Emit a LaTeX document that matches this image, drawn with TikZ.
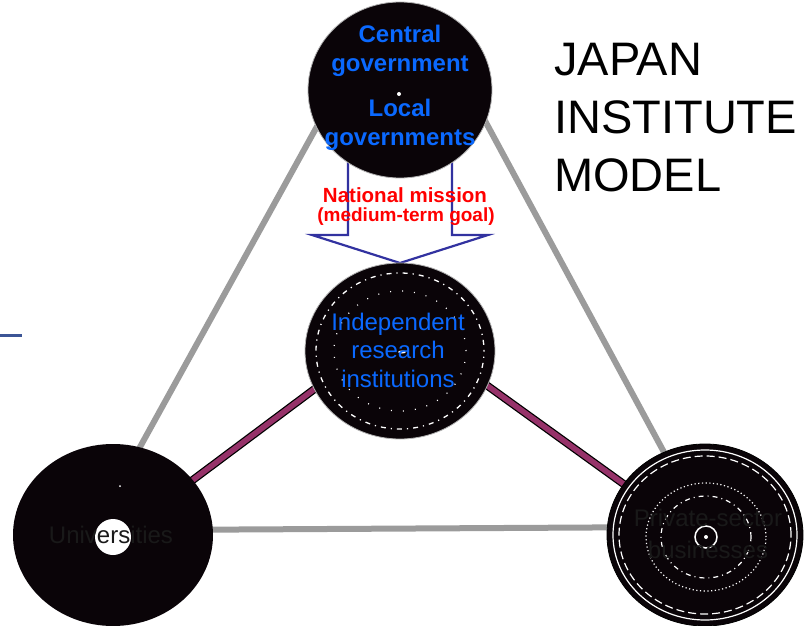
\documentclass[tikz,border=0pt]{standalone}
\usepackage{fontspec}
\setmainfont{Liberation Sans}
\usetikzlibrary{shapes.geometric}
\definecolor{disc}{RGB}{10,4,8}
\definecolor{greyline}{RGB}{155,155,155}
\definecolor{plum}{RGB}{150,50,105}
\definecolor{textblue}{RGB}{10,105,255}
\definecolor{arrowblue}{RGB}{50,50,160}
\definecolor{stubblue}{RGB}{60,85,150}
\tikzset{
  disk/.style={ellipse, fill=disc, draw=gray!60, line width=0.8pt, inner sep=0pt},
  greyconn/.style={draw=greyline, line width=6pt},
  plumouter/.style={draw=black, line width=8pt},
  pluminner/.style={draw=plum, line width=5.5pt},
  bluebold/.style={text=textblue, font=\fontsize{24}{28.5}\selectfont\bfseries, align=center, inner sep=0pt},
  bluereg/.style={text=textblue, font=\fontsize{24}{28.5}\selectfont, align=center, inner sep=0pt},
  darktext/.style={text=black!90, font=\fontsize{24}{32}\selectfont, align=center, inner sep=0pt},
  redtext/.style={text=red, font=\fontsize{19}{22}\selectfont\bfseries, align=center, inner sep=0pt},
  titletext/.style={text=black, font=\fontsize{47}{58}\selectfont, align=left, inner sep=0pt, anchor=north west},
  whitering/.style={draw=white, line width=1.2pt},
}
\begin{document}
\begin{tikzpicture}[x=1pt,y=-1pt]
\useasboundingbox (0,0) rectangle (804,626);
% connector end points (hidden behind the discs)
\coordinate (gl1) at (331.6,100);
\coordinate (gl2) at (121.8,480);
\coordinate (gr1) at (473.8,100);
\coordinate (gr2) at (679,480);
\coordinate (gb1) at (150,530);
\coordinate (gb2) at (680,527);
\coordinate (pl1) at (340,370);
\coordinate (pl2) at (170,497);
\coordinate (pr1) at (460,366);
\coordinate (pr2) at (650,503);
\coordinate (s1) at (0,335);
\coordinate (s2) at (22,335);
% grey triangle
\draw[greyconn] (gl1) -- (gl2);
\draw[greyconn] (gr1) -- (gr2);
\draw[greyconn] (gb1) -- (gb2);
% plum links
\draw[plumouter] (pl1) -- (pl2);
\draw[pluminner] (pl1) -- (pl2);
\draw[plumouter] (pr1) -- (pr2);
\draw[pluminner] (pr1) -- (pr2);
% left stub
\draw[stubblue, line width=3pt] (s1) -- (s2);
% block arrow
\draw[arrowblue, fill=white, line width=2.2pt, line join=miter]
  (348,150) -- (348,235) -- (312,235) -- (400,263) -- (488,235) -- (452,235) -- (452,150) -- cycle;
\node[redtext, font=\fontsize{20.5}{22}\selectfont\bfseries] (nm1) at (405,195) {National mission};
\node[redtext] (nm2) at (406,217) {(medium-term goal)};
% discs
\node[disk, minimum width=184pt, minimum height=176pt] (gov) at (400,90) {};
\fill[white] (399,94) circle (2pt);
\node[bluebold] (cg) at (400,51) {Central\\government};
\node[bluebold] (lg) at (400,125) {Local\\governments};

\node[disk, minimum width=190pt, minimum height=176pt] (iri) at (400,351) {};
\draw[white, line width=1.3pt, dash pattern=on 1.2pt off 5pt on 5pt off 5pt] (400,351) ellipse (84pt and 78pt);
\draw[white, line width=1.2pt, dash pattern=on 1pt off 11pt] (400,351) ellipse (66pt and 60pt);
\fill[white] (402,352) ellipse (4pt and 1.5pt);
\node[bluereg] (irit) at (398,350) {Independent\\research\\institutions};

\node[disk, draw=none, minimum width=200pt, minimum height=182pt] (uni) at (113,535) {};
\fill[white] (113,537) circle (18pt);
\fill[white] (120,486) circle (1pt);
\node[darktext] (unit) at (111,535) {Universities};

\node[disk, draw=black, minimum width=196pt, minimum height=182pt] (priv) at (705,535) {};
\draw[whitering] (705,535) ellipse (92pt and 85pt);
\draw[white, line width=1.2pt, dash pattern=on 8pt off 4pt] (705,535) ellipse (86pt and 79pt);
\draw[white, line width=1.2pt, dash pattern=on 1.2pt off 2.5pt] (706,537) ellipse (60pt and 54pt);
\draw[white, line width=1.2pt, dash pattern=on 5pt off 4pt on 1pt off 4pt] (706,537) ellipse (45pt and 41pt);
\draw[white, line width=1.5pt] (706,537) circle (11pt);
\fill[white] (706,537) circle (2pt);
\node[darktext] (privt) at (708,534) {Private-sector\\businesses};

% title
\node[titletext] (title) at (554,43) {JAPAN\\INSTITUTE\\MODEL};
\end{tikzpicture}
\end{document}
